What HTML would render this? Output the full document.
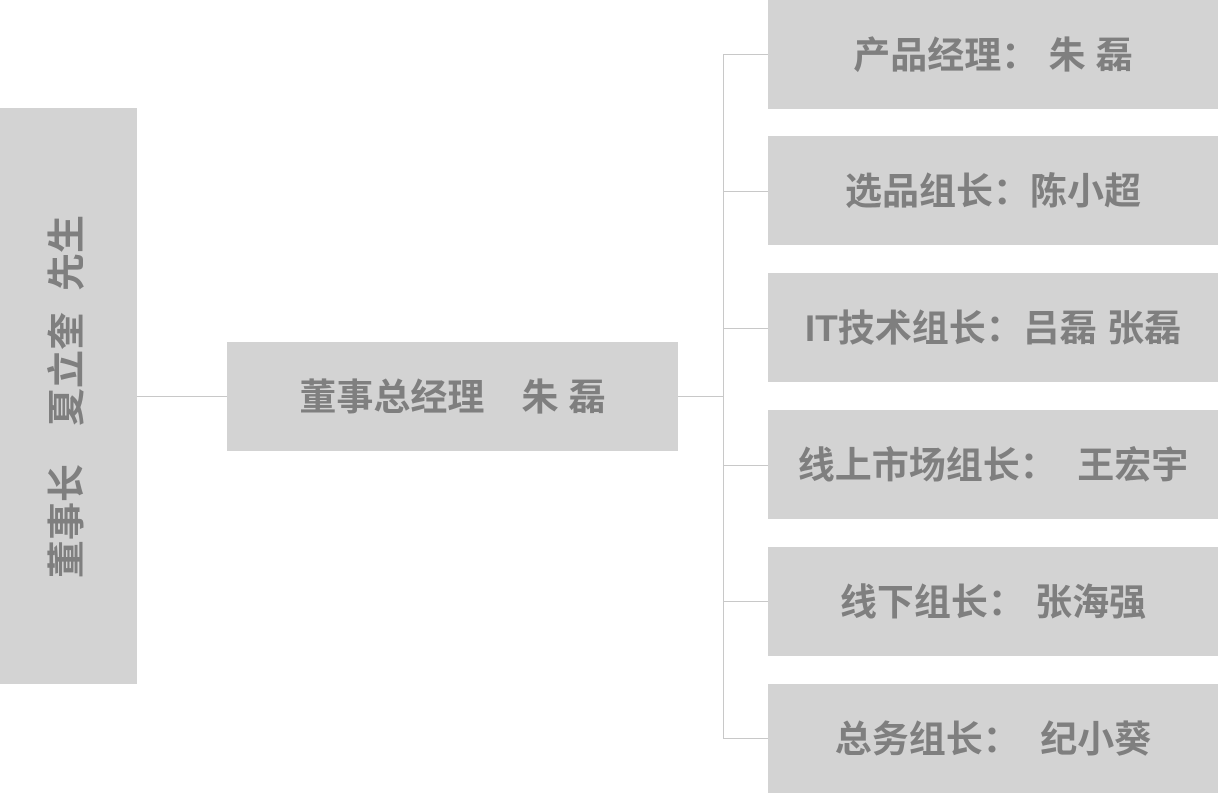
<!DOCTYPE html>
<html><head><meta charset="utf-8"><style>
body{margin:0;width:1218px;height:793px;background:#fff;position:relative;overflow:hidden;font-family:"Liberation Sans","Noto Sans CJK SC",sans-serif;}
.b{position:absolute;background:#d3d3d3;color:#7f7f7f;font-weight:bold;font-size:37px;display:flex;align-items:center;justify-content:center;white-space:pre;box-sizing:border-box;padding-bottom:6px;}
.l{position:absolute;background:#c8c8c8;}
</style></head><body>
<div class="b" style="left:0;top:108px;width:137px;height:576px;padding:0;"><div style="transform:rotate(-90deg);font-size:38px;margin-right:10px;">董事长　夏立奎  先生</div></div>
<div class="b" style="left:227px;top:342px;width:451px;height:109px;">董事总经理　朱 磊</div>
<div class="l" style="left:137px;top:396px;width:90px;height:1px;"></div>
<div class="l" style="left:678px;top:396px;width:45px;height:1px;"></div>
<div class="l" style="left:723px;top:54px;width:1px;height:685px;"></div>
<div class="l" style="left:723px;top:54px;width:45px;height:1px;"></div>
<div class="l" style="left:723px;top:191px;width:45px;height:1px;"></div>
<div class="l" style="left:723px;top:328px;width:45px;height:1px;"></div>
<div class="l" style="left:723px;top:465px;width:45px;height:1px;"></div>
<div class="l" style="left:723px;top:601px;width:45px;height:1px;"></div>
<div class="l" style="left:723px;top:738px;width:45px;height:1px;"></div>
<div class="b" style="left:768px;top:0;width:450px;height:109px;">产品经理： 朱 磊</div>
<div class="b" style="left:768px;top:136px;width:450px;height:109px;">选品组长：陈小超</div>
<div class="b" style="left:768px;top:273px;width:450px;height:109px;">IT技术组长：吕磊 张磊</div>
<div class="b" style="left:768px;top:410px;width:450px;height:109px;">线上市场组长：  王宏宇</div>
<div class="b" style="left:768px;top:547px;width:450px;height:109px;">线下组长： 张海强</div>
<div class="b" style="left:768px;top:684px;width:450px;height:109px;">总务组长：  纪小葵</div>
</body></html>
